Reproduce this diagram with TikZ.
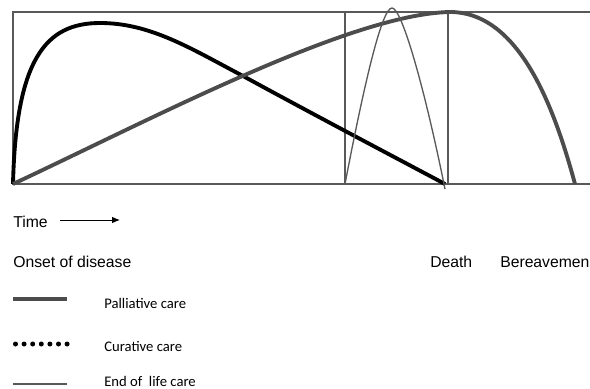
\documentclass[tikz,border=0pt]{standalone}
\usepackage{fontspec}
\setmainfont{Liberation Sans}
\newfontfamily\legendfont{Carlito}
\usetikzlibrary{
    arrows.meta,
    positioning
}

\begin{document}
\begin{tikzpicture}[
    x=0.75pt,
    y=-0.75pt,
    frame/.style={
        draw=black!65,
        line width=0.8pt
    },
    curative/.style={
        draw=black,
        line width=2.9pt
    },
    palliative/.style={
        draw=black!70,
        line width=2.9pt
    },
    endoflife/.style={
        draw=black!65,
        line width=1pt
    },
    label/.style={
        anchor=west,
        inner sep=0pt,
        font=\fontsize{11.8}{14}\selectfont
    },
    key/.style={
        anchor=west,
        inner sep=0pt,
        font=\legendfont\fontsize{11}{13}\selectfont
    },
    flow/.style={
        -{Latex[length=6pt,width=5pt]},
        line width=0.7pt
    }
]
\useasboundingbox (0,0) rectangle (590,389);

% frame of the time line
\coordinate (onset) at (13,184);
\coordinate (eolstart) at (345,184);
\coordinate (death) at (448,184);
\draw[frame] (590,12) -- (13,12) -- (onset) -- (590,184);
\draw[frame] (eolstart) -- (345,12);
\draw[frame] (death) -- (448,12);

% curves
\draw[curative] (onset) .. controls (16,60) and (45,23) .. (100,23)
    .. controls (150,23) and (190,48) .. (243,76)
    .. controls (320,118) and (400,160) .. (445,184);
\draw[palliative] (onset) .. controls (150,120) and (350,14) .. (450,12)
    .. controls (520,12) and (555,110) .. (575,184);
\draw[endoflife] (eolstart) .. controls (365,80) and (382,8) .. (392,8)
    .. controls (402,8) and (425,90) .. (445,189);

% time axis labels
\node[label] (time) at (13,222) {Time};
\coordinate (timeend) at (120,220);
\draw[flow] (60,220) -- (timeend);
\node[label] (onsetlabel) at (13,262) {Onset of disease};
\node[label] (deathlabel) at (430,262) {Death};
\node[label] (bereavement) at (500,262) {Bereavemen};

% legend
\draw[palliative, line width=3pt] (13,299) -- (67,299);
\node[key] (pallkey) at (104,303) {Palliative care};
\foreach \i in {0,...,6}
    \fill (15.5+8.6*\i,344) circle (2.5);
\node[key] (curkey) at (104,346) {Curative care};
\draw[endoflife] (13,384) -- (67,384);
\node[key] (eolkey) at (104,381) {End of\ \ life care};

\end{tikzpicture}
\end{document}
